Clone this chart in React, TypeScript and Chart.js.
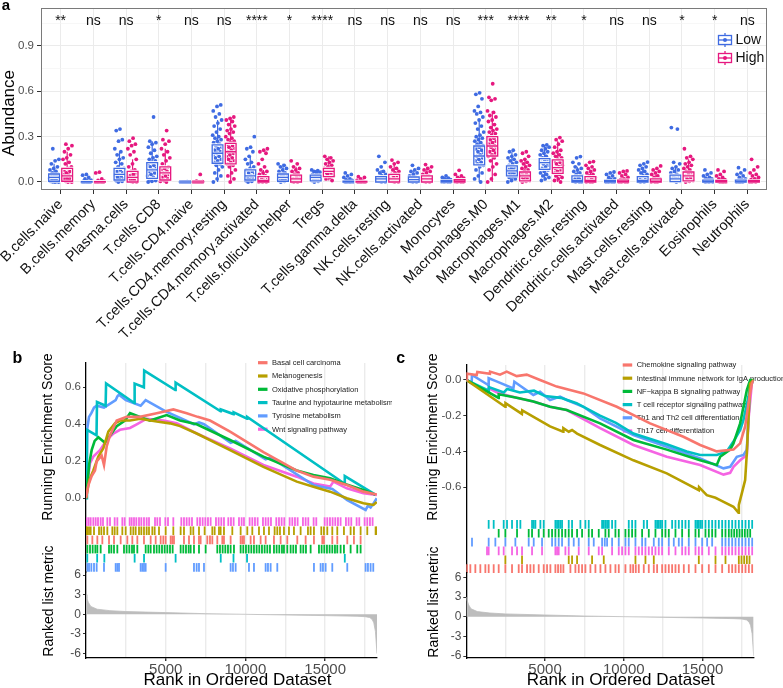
import React, { useEffect, useRef } from "react";
import { Chart, registerables } from "chart.js";
Chart.register(...registerables);

const FONT = "'Liberation Sans', Arial, Helvetica, sans-serif";

// ================= Panel a data =================
const CELL_TYPES = ["B.cells.naive","B.cells.memory","Plasma.cells","T.cells.CD8","T.cells.CD4.naive","T.cells.CD4.memory.resting","T.cells.CD4.memory.activated","T.cells.follicular.helper","Tregs","T.cells.gamma.delta","NK.cells.resting","NK.cells.activated","Monocytes","Macrophages.M0","Macrophages.M1","Macrophages.M2","Dendritic.cells.resting","Dendritic.cells.activated","Mast.cells.resting","Mast.cells.activated","Eosinophils","Neutrophils"];
const SIG_LABELS = ["**","ns","ns","*","ns","ns","****","*","****","ns","ns","ns","ns","***","****","**","*","ns","ns","*","*","ns"];
const GROUP_NAMES = ["Low", "High"];
const A_Y_TICKS = [0, 0.15, 0.3, 0.45, 0.6, 0.75, 0.9, 1.05];
const A_Y_MAJOR = [0, 0.3, 0.6, 0.9];

const LOW_Q1 = [0.005,0,0.013,0.024,0,0.124,0.013,0.005,0.008,0,0,0,0,0.113,0.04,0.084,0,0,0,0.002,0,0];
const LOW_MED = [0.03,0,0.05,0.08,0,0.19,0.04,0.03,0.03,0,0.02,0.015,0.003,0.172,0.073,0.128,0.01,0.002,0.01,0.02,0.003,0.003];
const LOW_Q3 = [0.053,0.002,0.09,0.128,0,0.245,0.08,0.053,0.046,0.005,0.035,0.033,0.01,0.238,0.106,0.155,0.04,0.01,0.035,0.046,0.012,0.012];
const HIGH_Q1 = [0.005,0,0,0.013,0,0.12,0,0,0.035,0,0,0,0,0.172,0.007,0.057,0,0,0,0.007,0,0];
const HIGH_MED = [0.04,0,0.03,0.06,0,0.2,0.01,0.02,0.07,0,0.02,0.02,0.005,0.238,0.04,0.095,0.01,0.002,0.005,0.04,0.002,0.002];
const HIGH_Q3 = [0.09,0.002,0.07,0.1,0,0.256,0.035,0.045,0.09,0.004,0.05,0.04,0.015,0.3,0.066,0.146,0.035,0.012,0.02,0.066,0.01,0.01];

const LOW_POINTS = [
  [0.22,0.15,0.14,0.12,0.1,0.09,0.08,0.07,0.06,0.05,0.045,0.04,0.035,0.03,0.025,0.02,0.015,0.01,0.008,0.005,0.003,0.001,0,0],
  [0.05,0.045,0.03,0.02,0.012,0.008,0.005,0.003,0.002,0.001,0,0,0,0,0,0],
  [0.35,0.34,0.28,0.27,0.22,0.2,0.18,0.16,0.15,0.13,0.12,0.1,0.09,0.08,0.07,0.06,0.05,0.045,0.04,0.03,0.02,0.015,0.01,0.005,0],
  [0.43,0.27,0.26,0.25,0.23,0.21,0.19,0.17,0.16,0.15,0.14,0.13,0.12,0.11,0.1,0.09,0.08,0.07,0.06,0.05,0.04,0.03,0.02,0.01,0.005,0],
  [0.002,0.001,0,0,0,0,0,0,0,0,0,0],
  [0.51,0.5,0.47,0.45,0.43,0.41,0.39,0.37,0.35,0.33,0.31,0.3,0.29,0.28,0.27,0.26,0.25,0.24,0.23,0.22,0.21,0.2,0.19,0.18,0.17,0.16,0.15,0.14,0.13,0.12,0.11,0.1,0.08,0.06,0.04,0.02,0],
  [0.3,0.23,0.22,0.2,0.17,0.15,0.13,0.12,0.1,0.09,0.08,0.07,0.06,0.05,0.04,0.03,0.02,0.015,0.01,0.005,0],
  [0.12,0.11,0.1,0.09,0.08,0.07,0.06,0.05,0.04,0.035,0.03,0.02,0.015,0.01,0.005,0],
  [0.08,0.075,0.07,0.065,0.06,0.05,0.045,0.04,0.035,0.03,0.025,0.02,0.015,0.01,0.005,0],
  [0.06,0.05,0.04,0.03,0.02,0.015,0.01,0.005,0.002,0,0,0,0,0],
  [0.17,0.13,0.1,0.08,0.07,0.06,0.05,0.04,0.03,0.025,0.02,0.015,0.01,0.005,0,0],
  [0.11,0.09,0.08,0.07,0.06,0.05,0.04,0.03,0.02,0.015,0.01,0.005,0,0],
  [0.04,0.03,0.025,0.02,0.015,0.01,0.008,0.005,0.003,0.001,0,0,0],
  [0.59,0.58,0.55,0.5,0.47,0.46,0.45,0.43,0.41,0.39,0.37,0.35,0.33,0.31,0.3,0.29,0.28,0.27,0.26,0.25,0.24,0.23,0.22,0.21,0.2,0.19,0.18,0.17,0.16,0.15,0.14,0.13,0.12,0.11,0.1,0.08,0.06,0.04,0.02,0],
  [0.21,0.2,0.18,0.17,0.16,0.15,0.14,0.13,0.12,0.11,0.1,0.09,0.085,0.08,0.075,0.07,0.065,0.06,0.05,0.045,0.04,0.035,0.03,0.02,0.01,0],
  [0.245,0.24,0.23,0.22,0.21,0.2,0.19,0.18,0.17,0.16,0.15,0.14,0.13,0.125,0.12,0.11,0.1,0.09,0.08,0.07,0.06,0.05,0.04,0.03,0.02,0.01],
  [0.168,0.16,0.13,0.12,0.1,0.09,0.08,0.07,0.06,0.05,0.04,0.03,0.02,0.015,0.01,0.005,0,0,0],
  [0.066,0.06,0.05,0.04,0.03,0.02,0.015,0.01,0.005,0.002,0,0,0,0],
  [0.132,0.12,0.11,0.1,0.09,0.08,0.07,0.06,0.05,0.04,0.03,0.02,0.01,0.005,0,0],
  [0.36,0.35,0.13,0.12,0.1,0.09,0.08,0.07,0.06,0.05,0.04,0.03,0.025,0.02,0.015,0.01,0.005,0],
  [0.08,0.06,0.05,0.04,0.03,0.025,0.02,0.015,0.01,0.005,0.002,0,0,0],
  [0.095,0.08,0.06,0.05,0.04,0.03,0.02,0.015,0.01,0.005,0,0,0,0],
];
const HIGH_POINTS = [
  [0.25,0.24,0.22,0.2,0.18,0.16,0.15,0.13,0.12,0.1,0.09,0.08,0.07,0.06,0.05,0.045,0.04,0.03,0.025,0.02,0.01,0.005,0,0],
  [0.065,0.06,0.02,0.01,0.005,0.003,0.001,0,0,0,0,0,0],
  [0.29,0.27,0.25,0.24,0.22,0.2,0.18,0.15,0.12,0.1,0.08,0.07,0.06,0.05,0.04,0.03,0.025,0.02,0.01,0.005,0,0],
  [0.34,0.28,0.27,0.25,0.22,0.2,0.18,0.16,0.14,0.12,0.1,0.09,0.08,0.07,0.06,0.05,0.04,0.03,0.02,0.01,0.005,0],
  [0.05,0.005,0.002,0,0,0,0,0,0,0,0,0],
  [0.43,0.42,0.41,0.4,0.38,0.37,0.35,0.34,0.33,0.32,0.3,0.29,0.28,0.27,0.26,0.25,0.24,0.23,0.22,0.21,0.2,0.19,0.18,0.17,0.16,0.15,0.14,0.13,0.12,0.11,0.1,0.08,0.06,0.04,0.02,0],
  [0.22,0.21,0.2,0.19,0.15,0.12,0.1,0.08,0.07,0.06,0.05,0.04,0.03,0.02,0.01,0.005,0,0,0],
  [0.14,0.12,0.1,0.09,0.08,0.07,0.06,0.05,0.04,0.03,0.02,0.015,0.01,0.005,0,0],
  [0.17,0.16,0.15,0.14,0.13,0.12,0.11,0.1,0.09,0.085,0.08,0.075,0.07,0.065,0.06,0.05,0.04,0.03,0.02,0.01],
  [0.035,0.03,0.02,0.01,0.005,0.002,0,0,0,0,0],
  [0.145,0.13,0.12,0.1,0.09,0.08,0.07,0.06,0.05,0.04,0.03,0.02,0.01,0.005,0,0],
  [0.115,0.1,0.09,0.08,0.07,0.06,0.05,0.04,0.03,0.02,0.01,0.005,0,0],
  [0.077,0.05,0.04,0.03,0.025,0.02,0.015,0.01,0.005,0.002,0,0,0],
  [0.65,0.56,0.55,0.54,0.47,0.46,0.44,0.43,0.41,0.4,0.38,0.36,0.35,0.34,0.33,0.32,0.31,0.3,0.29,0.28,0.27,0.26,0.25,0.24,0.23,0.22,0.21,0.2,0.19,0.18,0.17,0.16,0.14,0.12,0.1,0.08,0.05,0.02,0],
  [0.2,0.19,0.17,0.15,0.14,0.13,0.12,0.11,0.1,0.09,0.08,0.07,0.06,0.05,0.045,0.04,0.035,0.03,0.02,0.015,0.01,0.005,0],
  [0.294,0.28,0.27,0.25,0.23,0.21,0.2,0.19,0.18,0.17,0.16,0.15,0.14,0.13,0.12,0.11,0.1,0.09,0.08,0.07,0.06,0.05,0.04,0.03,0.02,0.01,0],
  [0.135,0.13,0.11,0.1,0.09,0.08,0.07,0.06,0.05,0.04,0.03,0.02,0.01,0.005,0,0,0],
  [0.073,0.07,0.06,0.05,0.04,0.03,0.02,0.015,0.01,0.005,0,0,0,0],
  [0.106,0.09,0.08,0.07,0.06,0.05,0.04,0.03,0.02,0.015,0.01,0.005,0,0,0],
  [0.22,0.17,0.16,0.15,0.13,0.12,0.11,0.1,0.09,0.08,0.07,0.06,0.05,0.04,0.03,0.02,0.01,0.005,0],
  [0.08,0.07,0.05,0.04,0.03,0.02,0.015,0.01,0.005,0,0,0,0],
  [0.15,0.1,0.08,0.06,0.05,0.04,0.03,0.02,0.015,0.01,0.005,0,0,0],
];

// ================= GSEA shared data =================
const N_GENES = 18250;
const GRID_RANKS = [2500, 5000, 7500, 10000, 12500, 15000, 17500];
const LABELED_RANKS = [5000, 10000, 15000];
const METRIC_RANKS = [0, 60, 150, 300, 700, 1500, 2500, 5000, 7500, 10000, 12500, 15000, 17000, 17500, 17800, 17950, 18050, 18150, 18250];
const METRIC_VALUES = [3.0, 2.4, 1.8, 1.2, 0.78, 0.56, 0.42, 0.26, 0.1, 0.0, -0.1, -0.2, -0.3, -0.36, -0.5, -0.8, -1.3, -2.6, -6.0];
const METRIC_TICKS = [6, 3, 0, -3, -6];

// ================= Panel b data =================
const B_NAMES = ["Basal cell carcinoma","Melanogenesis","Oxidative phosphorylation","Taurine and hypotaurine metabolism","Tyrosine metabolism","Wnt signaling pathway"];
const B_ES_TICKS = [0, 0.2, 0.4, 0.6];

const bBasalX = [0,146,355,564,669,982,1129,1297,1506,1925,2552,3388,4433,5479,6316,7000,7779,9035,11126,13218,14263,15309,16354,17400,18236];
const bBasalY = [0,0.07,0.12,0.15,0.2,0.23,0.18,0.28,0.34,0.42,0.44,0.44,0.46,0.48,0.46,0.44,0.42,0.36,0.25,0.15,0.117,0.1,0.072,0.036,0.02];
const bMelanoX = [0,209,460,774,1088,1401,1820,2133,2761,3388,4433,5270,5898,6943,9035,11126,13218,14263,15309,16354,17400,18027,18236];
const bMelanoY = [0,0.1,0.15,0.225,0.27,0.36,0.405,0.42,0.42,0.43,0.415,0.405,0.39,0.35,0.26,0.17,0.09,0.063,0.036,0,-0.027,-0.036,-0.02];
const bOxphosX = [0,209,355,544,774,1192,1506,1925,2447,2761,3388,4015,5061,5898,6943,9035,11126,13218,14263,15309,16145,17400,18132];
const bOxphosY = [0,0.19,0.26,0.31,0.33,0.3,0.34,0.39,0.42,0.46,0.44,0.42,0.45,0.42,0.4,0.315,0.225,0.15,0.126,0.108,0.08,0.045,0.02];
const bTaurineX = [0,60,660,690,1230,1260,3030,3050,3630,3650,5600,5620,8440,8450,9250,9260,10100,10110,16200,16230,18150];
const bTaurineY = [0,0.37,0.34,0.52,0.5,0.62,0.515,0.62,0.6,0.69,0.585,0.625,0.47,0.48,0.455,0.465,0.43,0.44,0.08,0.12,0.02];
const bTyrosineX = [0,84,190,335,502,669,1129,1861,1965,2070,2500,3428,3533,3742,4996,6772,7086,7399,9071,9385,11266,11579,14296,15446,16386,17536,17682,17849,18016,18236];
const bTyrosineY = [0,0.38,0.44,0.46,0.49,0.5,0.49,0.53,0.55,0.56,0.53,0.5,0.51,0.53,0.47,0.4,0.41,0.4,0.3,0.31,0.21,0.22,0.07,0.05,-0.01,-0.063,-0.04,-0.05,-0.03,0];
const bWntX = [0,146,251,460,878,1297,1715,2133,2761,3179,3807,4852,5689,6943,9035,11126,13218,14263,15309,15518,16354,17400,18236];
const bWntY = [0,0.12,0.19,0.225,0.26,0.315,0.35,0.37,0.38,0.4,0.43,0.42,0.405,0.35,0.27,0.18,0.117,0.08,0.063,0.09,0.054,0.027,0.018];

const bBasalHits = [84,398,711,1025,1443,1756,2174,2592,2906,3219,3637,4055,4369,4682,4849,4996,5309,5414,5518,6145,6459,6772,7086,7190,7608,7775,7922,8235,8549,8653,9071,9698,9803,9907,10325,10534,10952,11266,11788,12206,12624,13251,13774,14296,14819,14923,15446,15759,16386,16804,17222];
const bMelanoHits = [20,84,189,293,502,816,962,1129,1338,1652,1798,1965,2279,2488,2801,2968,3115,3324,3470,3637,3804,3951,4160,4306,4578,4996,5476,5936,6145,6563,6730,7086,7441,7922,8068,8340,8444,8653,9176,9698,10116,10430,10848,11161,11475,11830,11997,12164,12415,12729,13042,13460,13920,14087,14296,14756,14923,15132,15446,15759,16177,16595,16804,17222,17640,18163,18240];
const bOxphosHits = [84,251,418,586,711,920,1443,1589,1756,1965,2383,2550,2718,2885,3010,3219,3742,3909,4055,4264,4431,4598,4766,4933,5100,5267,5434,5936,6103,6270,6438,6563,6772,7086,7504,8235,8402,8569,8737,8904,9071,9280,9698,9865,10032,10200,10367,10534,10701,10868,11036,11203,11370,11537,11788,11955,12122,12290,12415,12624,12833,13000,13167,13460,13627,13794,14087,14610,14777,14944,15111,15278,15446,15613,15759,15968,16177,16595,17013,17222];
const bTaurineHits = [80,700,1150,3050,3640,5620,8450,9250,10100,16230];
const bTyrosineHits = [84,189,335,502,669,1129,1861,1965,2070,3428,3533,3637,3742,4996,6772,6939,7086,7399,9071,9217,9385,10220,10534,11266,11412,11579,11997,14296,14714,14860,15028,15446,16386,17536,17682,17849,18016];
const bWntHits = [42,168,293,460,607,753,920,1066,1338,1505,1798,1965,2279,2425,2738,2864,3010,3156,3324,3470,3637,3804,3951,4327,4473,4640,4975,5142,5476,5978,6145,6312,6479,6647,6981,7148,7315,7483,7650,7817,8151,8319,8486,8653,8925,9092,9259,9594,9761,9907,10262,10430,10597,10764,11098,11266,11433,11600,11934,12102,12269,12436,12770,12938,13105,13272,13606,13774,13941,14275,14442,14965,15132,15299,15466,15634,15801,15968,16302,16470,16637,16971,17138,17473,17640,17807,17974];

// ================= Panel c data =================
const C_NAMES = ["Chemokine signaling pathway","Intestinal immune network for IgA production","NF\u2212kappa B signaling pathway","T cell receptor signaling pathway","Th1 and Th2 cell differentiation","Th17 cell differentiation"];
const C_ES_TICKS = [0, -0.2, -0.4, -0.6];

const cChemoX = [0,40,660,700,1500,1510,2140,2565,3200,3836,4683,5742,7436,9554,11671,13789,14848,15907,16966,17389,17707,17919,18130,18250];
const cChemoY = [0,0.035,0.028,0.045,0.035,0.047,0.03,0.047,0.022,0.03,0,-0.037,-0.075,-0.15,-0.243,-0.318,-0.364,-0.4,-0.39,-0.355,-0.26,-0.13,-0.02,0];
const cIgaX = [0,2470,2490,3530,3550,5318,6150,6165,6505,6716,7034,8495,10612,12730,14765,14780,15271,15824,16119,16966,17283,17306,17495,17707,17813,18024,18250];
const cIgaY = [0,-0.15,-0.13,-0.19,-0.17,-0.26,-0.29,-0.27,-0.29,-0.28,-0.3,-0.364,-0.45,-0.523,-0.617,-0.6,-0.645,-0.66,-0.673,-0.71,-0.744,-0.7,-0.635,-0.56,-0.41,-0.02,0];
const cNfkbX = [0,2050,2060,3200,4259,5318,6377,8495,10612,12730,14848,15907,16119,16754,16966,17389,17813,18024,18250];
const cNfkbY = [0,-0.1,-0.08,-0.1,-0.12,-0.15,-0.168,-0.243,-0.336,-0.39,-0.45,-0.476,-0.43,-0.39,-0.355,-0.243,-0.056,0,0];
const cTcrX = [0,1420,1430,2380,2600,3400,4300,5000,6000,7000,8495,9500,10612,12730,14000,14848,15907,16542,16966,17389,17601,17919,18024,18250];
const cTcrY = [0,-0.06,-0.04,-0.07,-0.05,-0.07,-0.06,-0.09,-0.1,-0.13,-0.2,-0.24,-0.3,-0.36,-0.4,-0.42,-0.42,-0.4,-0.345,-0.28,-0.224,-0.093,-0.02,0];
const cTh12X = [0,338,362,1397,1421,1845,2988,3052,4259,4683,5318,5953,6377,7436,8495,10612,12730,14848,16331,16754,17177,17601,17813,18024,18250];
const cTh12Y = [0,-0.018,0.028,-0.028,0.01,-0.005,-0.047,-0.01,-0.084,-0.066,-0.112,-0.093,-0.112,-0.15,-0.215,-0.308,-0.374,-0.44,-0.495,-0.486,-0.43,-0.42,-0.39,-0.037,0];
const cTh17X = [0,1316,1421,2057,3200,4259,5318,6377,8495,10612,12730,14848,16331,16754,16966,17389,17813,17919,18130,18250];
const cTh17Y = [0,-0.065,-0.045,-0.075,-0.1,-0.12,-0.15,-0.168,-0.27,-0.364,-0.43,-0.476,-0.53,-0.52,-0.486,-0.45,-0.42,-0.22,-0.02,0];

const cChemoHits = [40,257,574,892,1210,1421,1739,2057,2480,2904,3328,3539,3857,4069,4281,4598,4916,5128,5340,5657,5827,5996,6166,6611,6928,7140,7352,7563,7881,8199,8517,8834,9152,9470,9682,10105,10423,10592,10762,10952,11270,11588,11906,12117,12435,12647,12859,13070,13282,13494,13812,14129,14553,14977,15400,15824,16247,16671,16883,17095,17306,17518,17730,17942,18154];
const cIgaHits = [2480,3539,6505,6716,7034,7987,8729,10741,11376,11906,14765,15824,16459,17306,17476,17645,17815,17984];
const cNfkbHits = [2057,2480,3222,3963,4175,4598,4916,5234,5446,5657,5869,6081,6293,6505,6716,7034,7352,7775,7987,8411,8834,9046,9470,9682,10105,10317,10529,10741,11164,11588,12011,12435,12647,12859,13282,13706,14129,14553,14765,15188,15400,15612,15824,16247,16459,16671,16840,17010,17179,17349,17518,17688,17857,18027];
const cTcrHits = [1421,1739,2375,2586,2904,3222,3433,4175,4281,4387,4704,4916,5657,5763,5869,5975,6081,6505,6716,7246,7563,7775,8623,8729,8834,8940,9046,9258,9470,10317,10529,10741,11270,11482,12011,12117,12223,12329,12435,12647,13070,13282,13494,13706,13918,14129,14553,14659,14765,14871,14977,15188,15400,15612,15824,16036,16247,16459,16671,16883,17095,17306,17518,17730,17942,18154];
const cTh12Hits = [362,1421,1845,2480,3116,3963,4281,4810,5446,5657,5869,6081,6505,6822,7140,7775,8093,8623,8792,8940,9258,9682,10105,10317,10741,11164,11376,11906,12223,12435,12859,13176,13494,13706,14129,14553,14977,15294,15612,16247,16459,16671,16883,17095,17306,17518,17730,17942,18154];
const cTh17Hits = [1316,1421,2057,2375,2904,3222,3539,4175,4810,5657,5763,5869,6293,6505,7140,7775,8411,8623,9258,9682,9893,10105,10317,10741,10952,11164,11376,11588,11800,12011,12223,12435,12859,13282,13706,13918,14129,14553,14765,14977,15400,15824,16247,16459,16671,16883,17095,17306,17518,17730,17942,18154];

// ================= Styles =================
const LOW_COLOR = "#3F6BE2";
const HIGH_COLOR = "#E6187F";
const GG = { salmon: "#F8766D", olive: "#B79F00", green: "#00BA38", teal: "#00BFC4", blue: "#619CFF", pink: "#F564E3" };
const DODGE = 0.2;
const BOX_HALF = 0.165;
const JITTER = 0.15;
const SIG_Y = 1.04;

const jitter = (j: number) => ((j * 0.6180339887 + 0.37) % 1) * 2 - 1;

const zeroPad = (s: any) => { s.paddingLeft = 0; s.paddingRight = 0; s.paddingTop = 0; s.paddingBottom = 0; };

const scatterData = (pts: number[][], off: number) =>
  pts.flatMap((vals, i) => vals.map((v, j) => ({ x: i + off + JITTER * jitter(j + i * 5), y: v })));

const boxPlugin = {
  id: "boxes",
  afterDatasetsDraw(chart: any) {
    const { ctx, chartArea: ca, scales } = chart;
    const x = scales.x, y = scales.y;
    const groups = [
      { q1: LOW_Q1, med: LOW_MED, q3: LOW_Q3, pts: LOW_POINTS, color: LOW_COLOR, off: -DODGE },
      { q1: HIGH_Q1, med: HIGH_MED, q3: HIGH_Q3, pts: HIGH_POINTS, color: HIGH_COLOR, off: DODGE },
    ];
    ctx.save();
    ctx.beginPath();
    ctx.rect(ca.left, ca.top, ca.width, ca.height);
    ctx.clip();
    for (const g of groups) {
      for (let i = 0; i < CELL_TYPES.length; i++) {
        const q1 = g.q1[i], md = g.med[i], q3 = g.q3[i], pts = g.pts[i];
        const iqr = q3 - q1;
        const wHi = Math.max(q3, ...pts.filter((v) => v <= q3 + 1.5 * iqr));
        const wLo = Math.min(q1, ...pts.filter((v) => v >= q1 - 1.5 * iqr));
        const xl = x.getPixelForValue(i + g.off - BOX_HALF);
        const xr = x.getPixelForValue(i + g.off + BOX_HALF);
        const xc = x.getPixelForValue(i + g.off);
        const y1 = y.getPixelForValue(q1), y3 = y.getPixelForValue(q3), ym = y.getPixelForValue(md);
        ctx.beginPath();
        ctx.moveTo(xc, y3); ctx.lineTo(xc, y.getPixelForValue(wHi));
        ctx.moveTo(xc, y1); ctx.lineTo(xc, y.getPixelForValue(wLo));
        ctx.strokeStyle = g.color; ctx.lineWidth = 1.2; ctx.stroke();
        const path = () => {
          ctx.beginPath();
          ctx.rect(xl, y3, xr - xl, y1 - y3);
          ctx.moveTo(xl, ym); ctx.lineTo(xr, ym);
        };
        path(); ctx.strokeStyle = "rgba(255,255,255,0.9)"; ctx.lineWidth = 3.2; ctx.stroke();
        path(); ctx.strokeStyle = g.color; ctx.lineWidth = 1.3; ctx.stroke();
      }
    }
    ctx.restore();
  },
  afterDraw(chart: any) {
    const { ctx, chartArea: ca, scales } = chart;
    const x = scales.x, y = scales.y;
    ctx.save();
    ctx.strokeStyle = "#7A7A7A"; ctx.lineWidth = 1;
    ctx.strokeRect(ca.left + 0.5, ca.top + 0.5, ca.width - 1, ca.height - 1);
    ctx.fillStyle = "#111";
    ctx.font = `14px ${FONT}`;
    ctx.textAlign = "center"; ctx.textBaseline = "alphabetic";
    SIG_LABELS.forEach((s, i) => ctx.fillText(s, x.getPixelForValue(i), y.getPixelForValue(SIG_Y)));
    const colors = [LOW_COLOR, HIGH_COLOR];
    GROUP_NAMES.forEach((name, k) => {
      const cx = ca.right - 42, cy = ca.top + 32 + k * 18;
      ctx.strokeStyle = colors[k]; ctx.lineWidth = 1.3;
      ctx.beginPath(); ctx.moveTo(cx, cy - 7); ctx.lineTo(cx, cy + 7); ctx.stroke();
      ctx.fillStyle = "#fff"; ctx.fillRect(cx - 6.5, cy - 4.5, 13, 9);
      ctx.strokeRect(cx - 6.5, cy - 4.5, 13, 9);
      ctx.beginPath(); ctx.moveTo(cx - 6.5, cy); ctx.lineTo(cx + 6.5, cy); ctx.stroke();
      ctx.fillStyle = colors[k]; ctx.beginPath(); ctx.arc(cx, cy, 2, 0, Math.PI * 2); ctx.fill();
      ctx.fillStyle = "#111"; ctx.font = `14px ${FONT}`; ctx.textAlign = "left"; ctx.textBaseline = "middle";
      ctx.fillText(name, cx + 10.5, cy + 0.5);
    });
    ctx.restore();
  },
};

function panelAConfig(): any {
  return {
    type: "scatter",
    data: {
      datasets: [
        { label: "Low", data: scatterData(LOW_POINTS, -DODGE), backgroundColor: LOW_COLOR, pointRadius: 1.9, pointBorderWidth: 0 },
        { label: "High", data: scatterData(HIGH_POINTS, DODGE), backgroundColor: HIGH_COLOR, pointRadius: 1.9, pointBorderWidth: 0 },
      ],
    },
    options: {
      animation: false, responsive: false, events: [],
      layout: { padding: { top: 8, right: 16, left: 0, bottom: 0 }, autoPadding: false },
      plugins: { legend: { display: false }, tooltip: { enabled: false } },
      scales: {
        x: {
          type: "linear", min: -0.6, max: 21.6,
          afterBuildTicks: (s: any) => { s.ticks = CELL_TYPES.map((_, i) => ({ value: i })); },
          ticks: { autoSkip: false, minRotation: 45, maxRotation: 45, padding: 2, font: { family: FONT, size: 14.5 }, color: "#111", callback: (v: any) => CELL_TYPES[Math.round(v)] },
          grid: { color: "#EBEBEB", lineWidth: 1, tickLength: 4, tickColor: "#333" },
          border: { display: false },
          afterFit: (s: any) => { s.height = 182; zeroPad(s); },
        },
        y: {
          type: "linear", min: -0.053, max: 1.151,
          afterBuildTicks: (s: any) => { s.ticks = A_Y_TICKS.map((v) => ({ value: v })); },
          ticks: { padding: 3, font: { family: FONT, size: 11.5 }, color: "#4D4D4D", callback: (v: any) => (A_Y_MAJOR.some((m) => Math.abs(m - v) < 1e-6) ? Number(v).toFixed(1) : "") },
          grid: {
            color: (c: any) => (A_Y_MAJOR.some((m) => Math.abs(m - c.tick?.value) < 1e-6) ? "#EBEBEB" : "#F4F4F4"),
            lineWidth: (c: any) => (A_Y_MAJOR.some((m) => Math.abs(m - c.tick?.value) < 1e-6) ? 1 : 0.7),
            tickLength: 4,
            tickColor: (c: any) => (A_Y_MAJOR.some((m) => Math.abs(m - c.tick?.value) < 1e-6) ? "#333" : "rgba(0,0,0,0)"),
          },
          border: { display: false },
          afterFit: (s: any) => { s.width = 41; zeroPad(s); },
        },
      },
    },
    plugins: [boxPlugin],
  };
}

// ================= GSEA panels =================
type GSet = { name: string; color: string; x: number[]; y: number[]; hits: number[] };
type GSpec = {
  sets: GSet[]; hitOrder: number[]; esMin: number; esMax: number; esTicks: number[];
  axisLeft: number; rightPad: number; topPad: number; hitsMax: number; hitsPadBottom: number;
  metMin: number; metMax: number; legendDx: number; legendDy: number; legendStep: number;
};

const B_SPEC: GSpec = {
  sets: [
    { name: B_NAMES[0], color: GG.salmon, x: bBasalX, y: bBasalY, hits: bBasalHits },
    { name: B_NAMES[1], color: GG.olive, x: bMelanoX, y: bMelanoY, hits: bMelanoHits },
    { name: B_NAMES[2], color: GG.green, x: bOxphosX, y: bOxphosY, hits: bOxphosHits },
    { name: B_NAMES[3], color: GG.teal, x: bTaurineX, y: bTaurineY, hits: bTaurineHits },
    { name: B_NAMES[4], color: GG.blue, x: bTyrosineX, y: bTyrosineY, hits: bTyrosineHits },
    { name: B_NAMES[5], color: GG.pink, x: bWntX, y: bWntY, hits: bWntHits },
  ],
  hitOrder: [5, 1, 0, 2, 3, 4],
  esMin: -0.101, esMax: 0.731, esTicks: B_ES_TICKS,
  axisLeft: 86, rightPad: 15, topPad: 18, hitsMax: 6, hitsPadBottom: 1,
  metMin: -6.67, metMax: 6.46, legendDx: 172, legendDy: -0.3, legendStep: 13.3,
};
const C_SPEC: GSpec = {
  sets: [
    { name: C_NAMES[0], color: GG.salmon, x: cChemoX, y: cChemoY, hits: cChemoHits },
    { name: C_NAMES[1], color: GG.olive, x: cIgaX, y: cIgaY, hits: cIgaHits },
    { name: C_NAMES[2], color: GG.green, x: cNfkbX, y: cNfkbY, hits: cNfkbHits },
    { name: C_NAMES[3], color: GG.teal, x: cTcrX, y: cTcrY, hits: cTcrHits },
    { name: C_NAMES[4], color: GG.blue, x: cTh12X, y: cTh12Y, hits: cTh12Hits },
    { name: C_NAMES[5], color: GG.pink, x: cTh17X, y: cTh17Y, hits: cTh17Hits },
  ],
  hitOrder: [3, 2, 4, 5, 1, 0],
  esMin: -0.773, esMax: 0.084, esTicks: C_ES_TICKS,
  axisLeft: 74.3, rightPad: 29.3, topPad: 20, hitsMax: 6.226, hitsPadBottom: 0,
  metMin: -6.3, metMax: 6.66, legendDx: 156.4, legendDy: 0, legendStep: 13.2,
};

const isLabeled = (v: any) => LABELED_RANKS.includes(Math.round(Number(v)));

function xGrid(withLabels: boolean): any {
  return {
    type: "linear", min: 0, max: N_GENES,
    afterBuildTicks: (s: any) => { s.ticks = GRID_RANKS.map((v) => ({ value: v })); },
    ticks: {
      display: withLabels, autoSkip: false, minRotation: 0, maxRotation: 0, padding: 0,
      font: { family: FONT, size: 15 }, color: "#4D4D4D",
      callback: (v: any) => (isLabeled(v) ? String(v) : ""),
    },
    grid: {
      color: "#EBEBEB", lineWidth: 1.4, drawTicks: withLabels, tickLength: 3,
      tickColor: (c: any) => (isLabeled(c.tick?.value) ? "#333" : "rgba(0,0,0,0)"),
    },
    border: { display: withLabels, color: "#000", width: 1.3 },
    afterFit: (s: any) => { s.height = withLabels ? 30 : 0; zeroPad(s); },
  };
}

function yAxis(p: GSpec, min: number, max: number, ticks: number[] | null, fmt: (v: number) => string, size: number): any {
  return {
    type: "linear", min, max,
    afterBuildTicks: (s: any) => { s.ticks = (ticks || []).map((v) => ({ value: v })); },
    ticks: { display: !!ticks, padding: 2, font: { family: FONT, size }, color: "#4D4D4D", callback: (v: any) => fmt(Number(v)) },
    grid: { display: !!ticks, drawOnChartArea: false, drawTicks: true, tickLength: 3, tickColor: "#333", color: "rgba(0,0,0,0)" },
    border: { display: true, color: "#000", width: 1.3 },
    afterFit: (s: any) => { s.width = p.axisLeft; zeroPad(s); },
  };
}

const baseOpts = (pad: any) => ({
  animation: false, responsive: false, events: [],
  layout: { padding: pad, autoPadding: false },
  plugins: { legend: { display: false }, tooltip: { enabled: false } },
});

function gseaLegend(p: GSpec) {
  return {
    id: "gseaLegend",
    beforeDatasetsDraw(chart: any) {
      const { ctx, chartArea: ca } = chart;
      ctx.save();
      ctx.font = `7.5px ${FONT}`;
      ctx.textAlign = "left"; ctx.textBaseline = "middle";
      p.sets.forEach((s, k) => {
        const yy = ca.top + p.legendDy + k * p.legendStep;
        const xx = ca.left + p.legendDx;
        ctx.fillStyle = s.color; ctx.fillRect(xx, yy - 1.6, 9.5, 3.2);
        ctx.fillStyle = "#222"; ctx.fillText(s.name, xx + 14, yy + 0.3);
      });
      ctx.restore();
    },
  };
}

function topConfig(p: GSpec): any {
  return {
    type: "line",
    data: {
      datasets: p.sets.map((s) => ({
        label: s.name, data: s.x.map((r, j) => ({ x: r, y: s.y[j] })),
        borderColor: s.color, backgroundColor: s.color, borderWidth: 2.6, pointRadius: 0, tension: 0, fill: false,
      })),
    },
    options: {
      ...baseOpts({ top: p.topPad, right: p.rightPad, left: 0, bottom: 0 }),
      scales: { x: xGrid(false), y: yAxis(p, p.esMin, p.esMax, p.esTicks, (v) => v.toFixed(1), 11.5) },
    },
    plugins: [gseaLegend(p)],
  };
}

function hitsConfig(p: GSpec): any {
  return {
    type: "scatter",
    data: {
      datasets: p.hitOrder.map((si, k) => ({
        label: p.sets[si].name,
        data: p.sets[si].hits.map((h) => ({ x: h, y: 5.5 - k })),
        pointStyle: "line", pointRotation: 90, pointRadius: 4.3, pointBorderWidth: 1.8,
        pointBorderColor: p.sets[si].color, pointBackgroundColor: p.sets[si].color, borderColor: p.sets[si].color,
      })),
    },
    options: {
      ...baseOpts({ top: 0, right: p.rightPad, left: 0, bottom: p.hitsPadBottom }),
      scales: { x: xGrid(false), y: yAxis(p, 0, p.hitsMax, null, () => "", 11) },
    },
  };
}

function metricConfig(p: GSpec): any {
  return {
    type: "line",
    data: {
      datasets: [{
        label: "metric", data: METRIC_RANKS.map((r, i) => ({ x: r, y: METRIC_VALUES[i] })),
        borderColor: "#BDBDBD", backgroundColor: "#BDBDBD", borderWidth: 0.8, pointRadius: 0, tension: 0, fill: "origin",
      }],
    },
    options: {
      ...baseOpts({ top: 12, right: p.rightPad, left: 0, bottom: 0 }),
      scales: { x: xGrid(true), y: yAxis(p, p.metMin, p.metMax, METRIC_TICKS, (v) => String(v), 12) },
    },
  };
}

const Label = ({ text, cx, cy, size, rotate = false, bold = false }: any) => (
  <div style={{
    position: "absolute", left: cx, top: cy,
    transform: `translate(-50%, -50%)${rotate ? " rotate(-90deg)" : ""}`,
    fontFamily: FONT, fontSize: size, fontWeight: bold ? "bold" : "normal",
    lineHeight: 1, whiteSpace: "nowrap", color: "#000",
  }}>{text}</div>
);

export default function App() {
  const aRef = useRef<HTMLCanvasElement>(null);
  const bTop = useRef<HTMLCanvasElement>(null);
  const bHits = useRef<HTMLCanvasElement>(null);
  const bMet = useRef<HTMLCanvasElement>(null);
  const cTop = useRef<HTMLCanvasElement>(null);
  const cHits = useRef<HTMLCanvasElement>(null);
  const cMet = useRef<HTMLCanvasElement>(null);

  useEffect(() => {
    const charts: Chart[] = [];
    const mk = (ref: any, cfg: any) => { if (ref.current) charts.push(new Chart(ref.current, cfg)); };
    mk(aRef, panelAConfig());
    mk(bTop, topConfig(B_SPEC));
    mk(bHits, hitsConfig(B_SPEC));
    mk(bMet, metricConfig(B_SPEC));
    mk(cTop, topConfig(C_SPEC));
    mk(cHits, hitsConfig(C_SPEC));
    mk(cMet, metricConfig(C_SPEC));
    return () => charts.forEach((c) => c.destroy());
  }, []);

  const cv = (ref: any, left: number, top: number, w: number, h: number) => (
    <canvas ref={ref} width={w} height={h} style={{ position: "absolute", left, top, width: w, height: h }} />
  );

  return (
    <div style={{ position: "absolute", left: 0, top: 0, width: 783, height: 688, background: "#fff", overflow: "hidden" }}>
      {cv(aRef, 0, 0, 783, 372)}
      {cv(bTop, 0, 345, 392, 172)}
      {cv(bHits, 0, 517, 392, 56)}
      {cv(bMet, 0, 560, 392, 128)}
      {cv(cTop, 392, 345, 391, 173)}
      {cv(cHits, 392, 518, 391, 55)}
      {cv(cMet, 392, 561, 391, 127)}
      <Label text="a" cx={5.8} cy={4.1} size={15} bold />
      <Label text="b" cx={17.5} cy={357.8} size={16} bold />
      <Label text="c" cx={400.8} cy={357.8} size={16} bold />
      <Label text="Abundance" cx={8} cy={112.5} size={17} rotate />
      <Label text="Running Enrichment Score" cx={47} cy={436.6} size={14} rotate />
      <Label text="Ranked list metric" cx={47.8} cy={600.8} size={14} rotate />
      <Label text="Rank in Ordered Dataset" cx={237.5} cy={679.3} size={17} />
      <Label text="Running Enrichment Score" cx={431.8} cy={436.6} size={14} rotate />
      <Label text="Ranked list metric" cx={433} cy={601.5} size={14} rotate />
      <Label text="Rank in Ordered Dataset" cx={620.8} cy={679.3} size={17} />
    </div>
  );
}
